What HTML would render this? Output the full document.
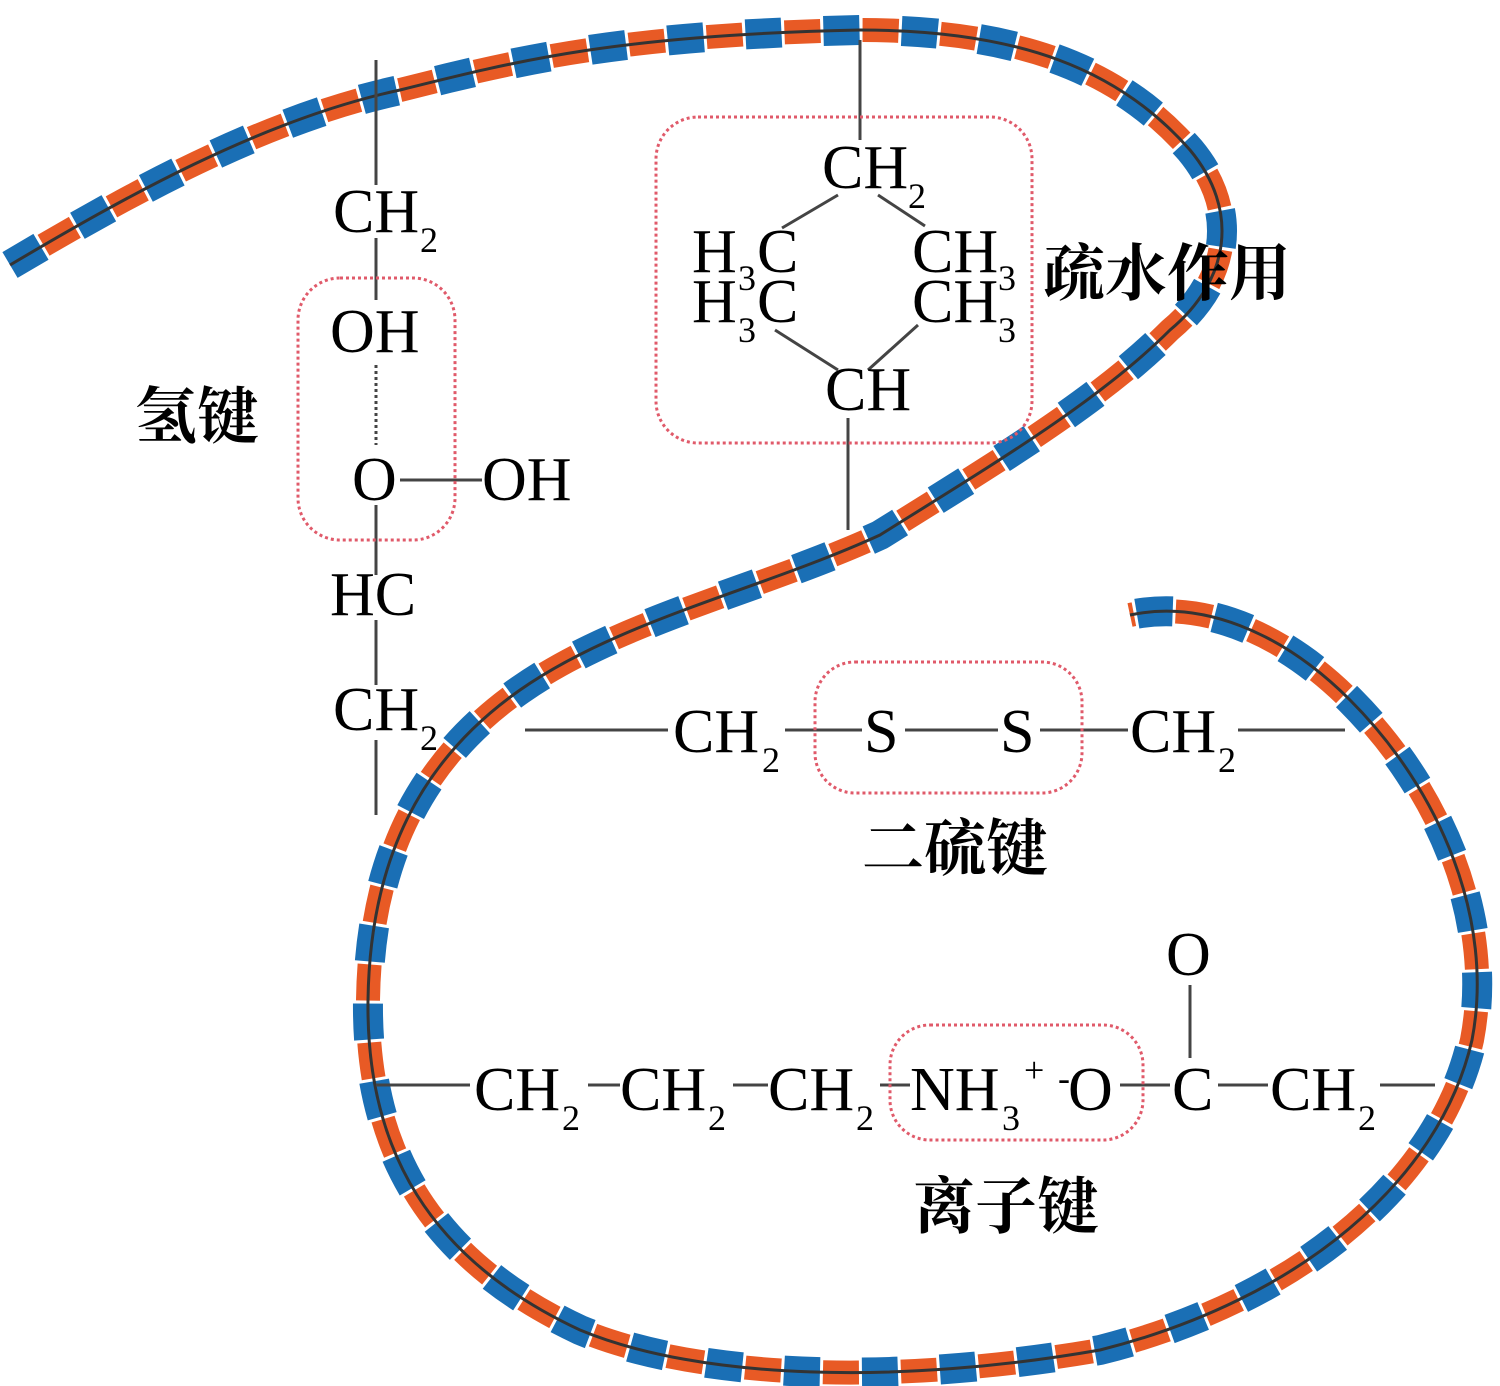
<!DOCTYPE html>
<html><head><meta charset="utf-8"><style>
html,body{margin:0;padding:0;background:#fff;width:1500px;height:1386px;overflow:hidden}
svg{display:block}
.c{font-family:"Liberation Serif",serif;font-size:62px;fill:#000}
.s{font-family:"Liberation Serif",serif;font-size:36px;fill:#000}
.z{font-family:"Liberation Serif","Noto Serif CJK SC","Noto Sans CJK SC",serif;font-size:62px;font-weight:bold;fill:#000}
</style></head><body>
<svg width="1500" height="1386" viewBox="0 0 1500 1386" xmlns="http://www.w3.org/2000/svg">
<defs>
<path id="rope" d="M10,265 C120,200 260,120 400,90 C520,60 620,35 860,30 C1020,30 1120,70 1190,150 C1240,210 1230,280 1170,330 C1100,400 1000,460 880,535 C760,590 620,620 520,690 C420,760 370,860 368,1000 C366,1150 430,1260 580,1330 C700,1380 900,1385 1100,1350 C1300,1300 1440,1180 1472,1040 C1495,920 1440,790 1350,700 C1280,630 1200,600 1130,615" fill="none"/>
</defs>
<use href="#rope" stroke="#1a6fb5" stroke-width="30" stroke-dasharray="36 42" stroke-dashoffset="0"/>
<use href="#rope" stroke="#e85a25" stroke-width="24" stroke-dasharray="36 42" stroke-dashoffset="39"/>
<use href="#rope" stroke="#333" stroke-width="3"/>

<g stroke="#444" stroke-width="3" fill="none">
<line x1="376" y1="60" x2="376" y2="185"/>
<line x1="376" y1="238" x2="376" y2="300"/>
<line x1="376" y1="505" x2="376" y2="575"/>
<line x1="376" y1="620" x2="376" y2="685"/>
<line x1="376" y1="740" x2="376" y2="815"/>
<line x1="400" y1="480" x2="482" y2="480"/>
<line x1="376" y1="365" x2="376" y2="445" stroke-dasharray="3 3"/>
<line x1="860" y1="40" x2="860" y2="140"/>
<line x1="838" y1="195" x2="782" y2="228"/>
<line x1="878" y1="195" x2="925" y2="226"/>
<line x1="775" y1="330" x2="838" y2="370"/>
<line x1="918" y1="325" x2="868" y2="370"/>
<line x1="848" y1="418" x2="848" y2="530"/>
<line x1="525" y1="730" x2="668" y2="730"/>
<line x1="785" y1="730" x2="862" y2="730"/>
<line x1="905" y1="730" x2="998" y2="730"/>
<line x1="1040" y1="730" x2="1128" y2="730"/>
<line x1="1238" y1="730" x2="1345" y2="730"/>
<line x1="376" y1="1085" x2="470" y2="1085"/>
<line x1="588" y1="1085" x2="620" y2="1085"/>
<line x1="733" y1="1085" x2="768" y2="1085"/>
<line x1="880" y1="1085" x2="910" y2="1085"/>
<line x1="1120" y1="1085" x2="1170" y2="1085"/>
<line x1="1218" y1="1085" x2="1268" y2="1085"/>
<line x1="1380" y1="1085" x2="1435" y2="1085"/>
<line x1="1190" y1="985" x2="1190" y2="1058"/>
</g>
<g fill="none" stroke="#e05a6a" stroke-width="3" stroke-dasharray="3 3">
<rect x="298" y="278" width="157" height="262" rx="42"/>
<rect x="656" y="117" width="376" height="326" rx="42"/>
<rect x="815" y="662" width="267" height="131" rx="40"/>
<rect x="890" y="1025" width="253" height="115" rx="40"/>
</g>

<text class="c" x="333" y="232">CH</text><text class="s" x="420" y="252">2</text>
<text class="c" x="330" y="352">OH</text>
<text class="c" x="352" y="500">O</text>
<text class="c" x="482" y="500">OH</text>
<text class="c" x="330" y="615">HC</text>
<text class="c" x="333" y="730">CH</text><text class="s" x="420" y="750">2</text>
<text class="z" x="135" y="438">氢键</text>

<text class="c" x="822" y="188">CH</text><text class="s" x="908" y="208">2</text>
<text class="c" x="692" y="272">H</text><text class="s" x="738" y="290">3</text><text class="c" x="757" y="272">C</text>
<text class="c" x="692" y="322">H</text><text class="s" x="738" y="342">3</text><text class="c" x="757" y="322">C</text>
<text class="c" x="912" y="272">CH</text><text class="s" x="998" y="290">3</text>
<text class="c" x="912" y="322">CH</text><text class="s" x="998" y="342">3</text>
<text class="c" x="825" y="410">CH</text>
<text class="z" x="1043" y="295">疏水作用</text>

<text class="c" x="673" y="752">CH</text><text class="s" x="762" y="772">2</text>
<text class="c" x="864" y="752">S</text>
<text class="c" x="1000" y="752">S</text>
<text class="c" x="1130" y="752">CH</text><text class="s" x="1218" y="772">2</text>
<text class="z" x="862" y="870">二硫键</text>

<text class="c" x="1166" y="975">O</text>
<text class="c" x="474" y="1110">CH</text><text class="s" x="562" y="1130">2</text>
<text class="c" x="620" y="1110">CH</text><text class="s" x="708" y="1130">2</text>
<text class="c" x="768" y="1110">CH</text><text class="s" x="856" y="1130">2</text>
<text class="c" x="910" y="1110">NH</text><text class="s" x="1002" y="1130">3</text>
<text class="s" x="1024" y="1082">+</text><text class="s" x="1058" y="1090">-</text>
<text class="c" x="1068" y="1110">O</text>
<text class="c" x="1172" y="1110">C</text>
<text class="c" x="1270" y="1110">CH</text><text class="s" x="1358" y="1130">2</text>
<text class="z" x="913" y="1228">离子键</text>
</svg>
</body></html>
